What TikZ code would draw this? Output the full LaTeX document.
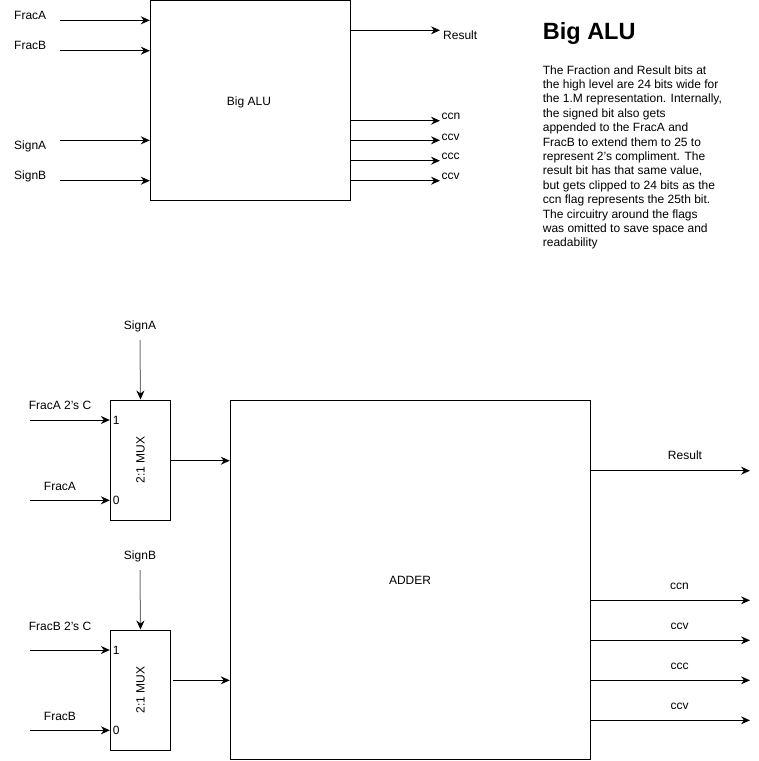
\documentclass[tikz,border=0pt]{standalone}
\usepackage{fontspec}
\setmainfont{Liberation Sans}
\usetikzlibrary{arrows.meta}
\begin{document}
\begin{tikzpicture}[x=1pt,y=-1pt,
  box/.style={draw,line width=1pt,inner sep=0pt},
  arr/.style={line width=1pt,-{Stealth[length=9pt,width=8pt,inset=3pt]}},
  garr/.style={line width=1pt,draw=black!55,-{Stealth[length=9pt,width=8pt,inset=3pt,color=black]}},
  lbl/.style={inner sep=0pt,font=\fontsize{12pt}{14.4pt}\selectfont,text height=9pt,text depth=0pt}]
\useasboundingbox[fill=white] (0,0) rectangle (759,761);
% ---------- top: Big ALU ----------
\node[box,minimum width=200pt,minimum height=199.5pt] (alu) at (250.3,100.5) {};
\node[lbl] (alulbl) at (249,100.5) {Big ALU};
\coordinate (ifa) at (60,20.3);
\coordinate (ifb) at (60,50.7);
\coordinate (isa) at (60,140.3);
\coordinate (isb) at (60,180.7);
\draw[arr] (ifa) -- (ifa -| alu.west);
\draw[arr] (ifb) -- (ifb -| alu.west);
\draw[arr] (isa) -- (isa -| alu.west);
\draw[arr] (isb) -- (isb -| alu.west);
\node[lbl,anchor=west] (lfa) at (14,15) {FracA};
\node[lbl,anchor=west] (lfb) at (14,44.5) {FracB};
\node[lbl,anchor=west] (lsa) at (14,145) {SignA};
\node[lbl,anchor=west] (lsb) at (14,175) {SignB};
\coordinate (ores) at (440,30.3);
\coordinate (occn) at (440,120.7);
\coordinate (occv) at (440,140.3);
\coordinate (occc) at (440,160.7);
\coordinate (occv2) at (440,180.7);
\draw[arr] (ores -| alu.east) -- (ores);
\draw[arr] (occn -| alu.east) -- (occn);
\draw[arr] (occv -| alu.east) -- (occv);
\draw[arr] (occc -| alu.east) -- (occc);
\draw[arr] (occv2 -| alu.east) -- (occv2);
\node[lbl,anchor=west] (lres) at (443,34.5) {Result};
\node[lbl,anchor=west] (lccn) at (441.5,114.5) {ccn};
\node[lbl,anchor=west] (lccv) at (441.5,135.5) {ccv};
\node[lbl,anchor=west] (lccc) at (441.5,155) {ccc};
\node[lbl,anchor=west] (lccv2) at (441.5,174.5) {ccv};
% ---------- description ----------
\node[inner sep=0pt,anchor=base west,font=\fontsize{23.5pt}{28pt}\selectfont\bfseries] (title) at (542.7,39.5) {Big ALU};
\node[inner sep=0pt,anchor=north west,align=left,font=\fontsize{12pt}{14.4pt}\selectfont] (desc) at (542.7,65.1) {The Fraction and Result bits at\\
the high level are 24 bits wide for\\
the 1.M representation. Internally,\\
the signed bit also gets\\
appended to the FracA and\\
FracB to extend them to 25 to\\
represent 2\symbol{39}s compliment. The\\
result bit has that same value,\\
but gets clipped to 24 bits as the\\
ccn flag represents the 25th bit.\\
The circuitry around the flags\\
was omitted to save space and\\
readability};
% ---------- bottom: MUXes and ADDER ----------
\node[box,minimum width=60.3pt,minimum height=120pt] (muxa) at (140.5,460) {};
\node[lbl,rotate=90] (muxalbl) at (140,460) {2:1 MUX};
\node[box,minimum width=60.3pt,minimum height=120pt] (muxb) at (140.5,690) {};
\node[lbl,rotate=90] (muxblbl) at (140,690) {2:1 MUX};
\node[box,minimum width=360.5pt,minimum height=359.5pt] (adder) at (410.5,580) {};
\node[lbl] (adderlbl) at (410,580) {ADDER};
% mux A inputs
\coordinate (sga) at (140,340);
\draw[garr] (sga) -- (muxa.north);
\node[lbl] (lsga) at (140,325) {SignA};
\coordinate (a1) at (30,420);
\coordinate (a0) at (30,500.3);
\draw[arr] (a1) -- (a1 -| muxa.west);
\draw[arr] (a0) -- (a0 -| muxa.west);
\node[lbl] (la1) at (60,405.4) {FracA 2's C};
\node[lbl] (la0) at (60,485.5) {FracA};
\node[lbl,anchor=west] (n1a) at (112.7,420) {1};
\node[lbl,anchor=west] (n0a) at (112.7,500) {0};
\coordinate (oa) at (170.7,460.7);
\draw[arr] (oa) -- (oa -| adder.west);
% mux B inputs
\coordinate (sgb) at (140,570);
\draw[garr] (sgb) -- (muxb.north);
\node[lbl] (lsgb) at (140,555) {SignB};
\coordinate (b1) at (30,650);
\coordinate (b0) at (30,730.3);
\draw[arr] (b1) -- (b1 -| muxb.west);
\draw[arr] (b0) -- (b0 -| muxb.west);
\node[lbl] (lb1) at (60,626) {FracB 2's C};
\node[lbl] (lb0) at (60,715.5) {FracB};
\node[lbl,anchor=west] (n1b) at (112.7,650) {1};
\node[lbl,anchor=west] (n0b) at (112.7,730) {0};
\coordinate (ob) at (173.3,680.3);
\draw[arr] (ob) -- (ob -| adder.west);
% adder outputs
\coordinate (rres) at (750,470.7);
\coordinate (rccn) at (750,600.3);
\coordinate (rccv) at (750,640.3);
\coordinate (rccc) at (750,680.3);
\coordinate (rccv2) at (750,720.3);
\draw[arr] (rres -| adder.east) -- (rres);
\draw[arr] (rccn -| adder.east) -- (rccn);
\draw[arr] (rccv -| adder.east) -- (rccv);
\draw[arr] (rccc -| adder.east) -- (rccc);
\draw[arr] (rccv2 -| adder.east) -- (rccv2);
\node[lbl] (lrres) at (685,455) {Result};
\node[lbl] (lrccn) at (679.5,585) {ccn};
\node[lbl] (lrccv) at (679.5,625) {ccv};
\node[lbl] (lrccc) at (679.5,665) {ccc};
\node[lbl] (lrccv2) at (679.5,705) {ccv};
\end{tikzpicture}
\end{document}
